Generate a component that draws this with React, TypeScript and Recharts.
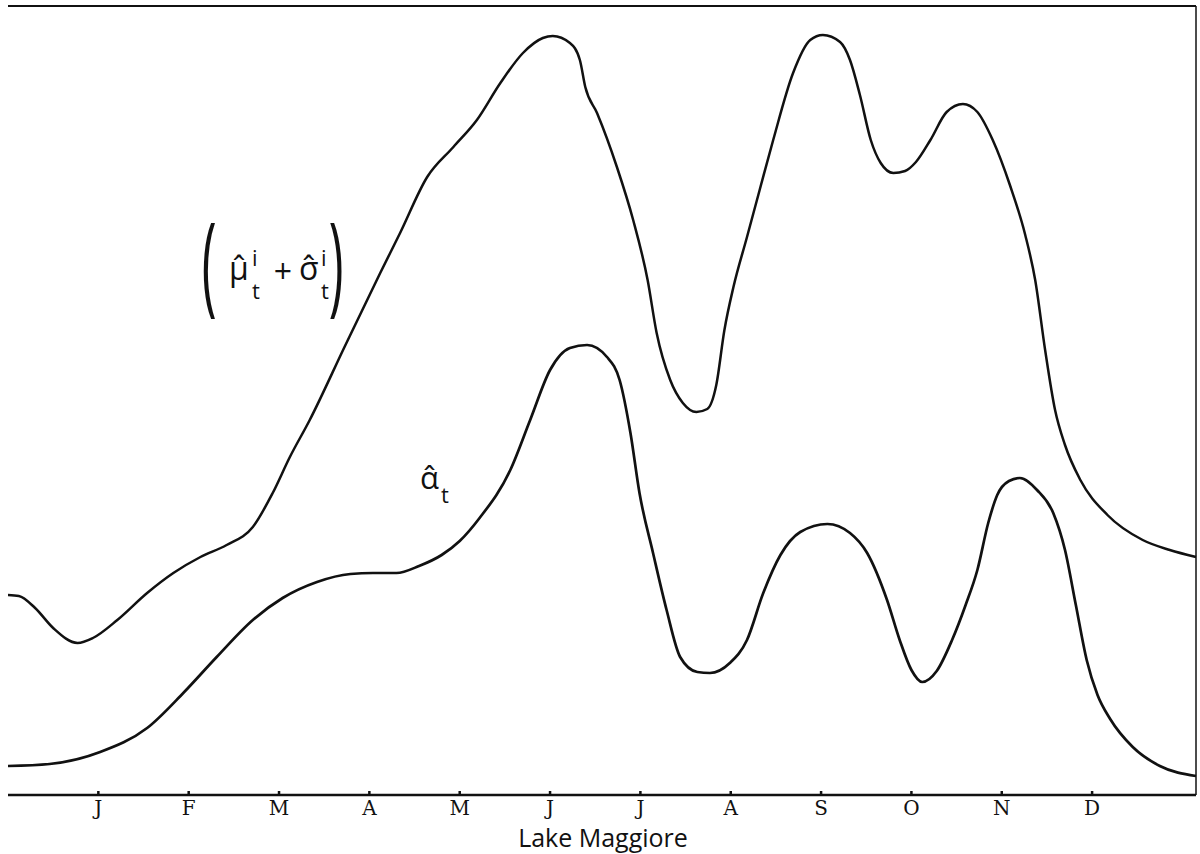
import { LineChart, Line, XAxis, YAxis, ReferenceLine } from 'recharts'

// month letters, ticks at month index 1..12
const months = ['J', 'F', 'M', 'A', 'M', 'J', 'J', 'A', 'S', 'O', 'N', 'D']
const monthTicks = [1, 2, 3, 4, 5, 6, 7, 8, 9, 10, 11, 12]

// (mu + sigma) curve, [month, height]
const upperCurve: [number, number][] = [
  [0.0, 200], [0.12, 199], [0.3, 187], [0.5, 167], [0.77, 152], [0.94, 157], [1.21, 175], [1.54, 202],
  [1.83, 222], [2.13, 238], [2.42, 250], [2.71, 268], [2.93, 302], [3.12, 338], [3.34, 375],
  [3.73, 449], [4.12, 522], [4.34, 562], [4.64, 618], [4.93, 648], [5.19, 675], [5.45, 712],
  [5.7, 742], [5.92, 757], [6.03, 759], [6.22, 752], [6.33, 735], [6.39, 708], [6.52, 682],
  [6.74, 628], [6.92, 575], [7.08, 515], [7.18, 462], [7.33, 415], [7.47, 392], [7.62, 383],
  [7.74, 386], [7.84, 410], [7.93, 465], [8.03, 508], [8.18, 558], [8.32, 605], [8.47, 655],
  [8.69, 722], [8.88, 755], [9.02, 760], [9.21, 753], [9.32, 735], [9.43, 700], [9.55, 655],
  [9.66, 632], [9.8, 622], [9.93, 624], [10.05, 633], [10.21, 655], [10.39, 683], [10.57, 691],
  [10.73, 683], [10.9, 655], [11.09, 610], [11.26, 560], [11.37, 515], [11.48, 445], [11.59, 385],
  [11.7, 350], [11.87, 315], [12.17, 280], [12.56, 255], [12.86, 245], [13.15, 238],
]

// alpha curve
const lowerCurve: [number, number][] = [
  [0.0, 29], [0.46, 31], [1.02, 43], [1.54, 67], [1.94, 102], [2.31, 138], [2.71, 175],
  [3.04, 197], [3.42, 213], [3.79, 221], [4.04, 222], [4.3, 222], [4.55, 229], [4.8, 240],
  [5.0, 254], [5.22, 277], [5.56, 325], [5.78, 375], [6.0, 425], [6.22, 447], [6.41, 450],
  [6.63, 438], [6.77, 415], [6.89, 362], [6.99, 302], [7.14, 242], [7.29, 185], [7.44, 138],
  [7.63, 123], [7.77, 122], [7.99, 132], [8.18, 155], [8.36, 202], [8.55, 240], [8.77, 263],
  [9.07, 271], [9.32, 262], [9.51, 242], [9.73, 195], [9.87, 155], [10.0, 125], [10.12, 113],
  [10.28, 124], [10.45, 155], [10.6, 190], [10.73, 225], [10.85, 272], [10.95, 300], [11.08, 314],
  [11.2, 317], [11.39, 305], [11.57, 282], [11.7, 245], [11.82, 190], [11.94, 135], [12.06, 100],
  [12.2, 76], [12.45, 48], [12.75, 29], [13.15, 19],
]

const X_MAX = 13.15
const Y_MAX = 789

const toRows = (pts: [number, number][]) => pts.map(([t, v]) => ({ t, v }))

export default function App() {
  const upper = toRows(upperCurve)
  const lower = toRows(lowerCurve)
  const ink = '#111'

  return (
    <div style={{ position: 'relative', width: 1200, height: 854, background: '#fff' }}>
      <style>{'body{margin:0}'}</style>
      <LineChart width={1200} height={854} margin={{ top: 6, right: 4, bottom: 19, left: 8 }}>
        <XAxis
          dataKey="t"
          type="number"
          domain={[0, X_MAX]}
          ticks={monthTicks}
          tickFormatter={(i: number) => months[i - 1]}
          height={40}
          stroke={ink}
          strokeWidth={2.5}
          tickSize={-4}
          tickMargin={10}
          tick={{ fill: ink, fontSize: 20, fontFamily: '"DejaVu Serif", serif' }}
          allowDuplicatedCategory={false}
        />
        <YAxis type="number" domain={[0, Y_MAX]} width={0} tick={false} tickLine={false} stroke={ink} strokeWidth={2} />
        <ReferenceLine y={Y_MAX} stroke={ink} strokeWidth={2} />
        <ReferenceLine x={X_MAX} stroke={ink} strokeWidth={1.5} />
        <Line data={upper} dataKey="v" type="monotone" stroke={ink} strokeWidth={2.5} dot={false} isAnimationActive={false} />
        <Line data={lower} dataKey="v" type="monotone" stroke={ink} strokeWidth={2.7} dot={false} isAnimationActive={false} />
      </LineChart>
      <svg width={1200} height={854} style={{ position: 'absolute', left: 0, top: 0, pointerEvents: 'none' }}>
        <g fill={ink} fontFamily='"Open Sans", sans-serif'>
          <text x={603} y={847} fontSize={25} textAnchor="middle">Lake Maggiore</text>
          {/* (mu^i_t + sigma^i_t) */}
          <text transform="translate(209,302) scale(1,2.2)" fontSize={50} textAnchor="middle">(</text>
          <text x={229} y={280} fontSize={32}>μ̂</text>
          <text x={252} y={266} fontSize={22}>i</text>
          <text x={252} y={299} fontSize={22}>t</text>
          <text x={283} y={283} fontSize={32} textAnchor="middle">+</text>
          <text x={299} y={280} fontSize={32}>σ̂</text>
          <text x={321} y={266} fontSize={22}>i</text>
          <text x={321} y={299} fontSize={22}>t</text>
          <text transform="translate(336,302) scale(1,2.2)" fontSize={50} textAnchor="middle">)</text>
          {/* alpha_t */}
          <text x={420} y={489} fontSize={31}>α̂</text>
          <text x={441} y={503} fontSize={22}>t</text>
        </g>
      </svg>
    </div>
  )
}
